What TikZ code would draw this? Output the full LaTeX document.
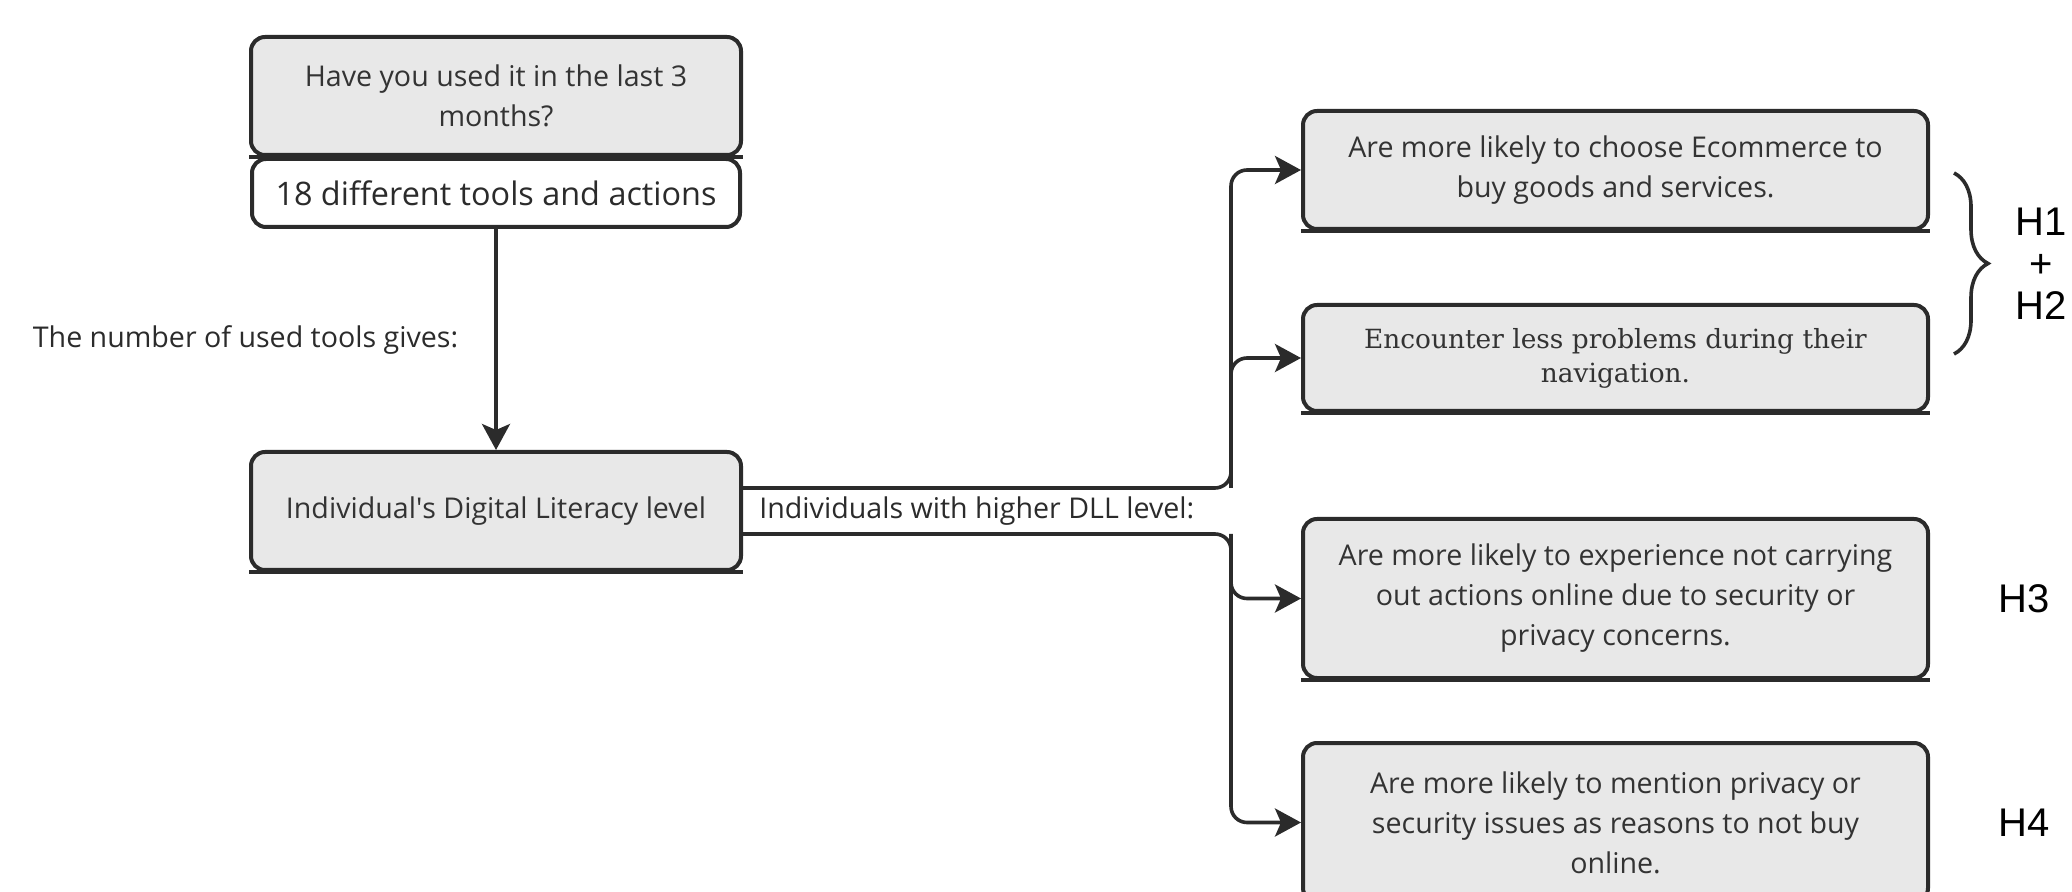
\documentclass[tikz,border=0pt]{standalone}
\usepackage{fontspec}
\setmainfont{Open Sans}
\newfontfamily\slabfont{DejaVu Serif}
\newfontfamily\hfont{Liberation Sans}
\usepackage{tikz}
\usetikzlibrary{positioning,arrows.meta,calc,decorations.pathreplacing}
\definecolor{ink}{HTML}{2B2B2B}
\definecolor{boxbg}{HTML}{E8E8E8}
\definecolor{txt}{HTML}{333333}
\tikzset{
  blk/.style={rectangle,rounded corners=7pt,draw=ink,fill=boxbg,line width=2pt,
    align=center,text=txt,inner sep=4pt,font=\fontsize{14.3}{20}\selectfont},
  blkw/.style={blk,fill=white,text=ink,font=\fontsize{16.2}{20}\selectfont},
  uline/.style={draw=ink,line width=2pt},
  ar/.style={-{Stealth[length=13pt,width=14pt,inset=3pt]},line width=1.8pt,draw=ink,rounded corners=8pt},
  lbl/.style={font=\fontsize{14.3}{20}\selectfont,text=ink,inner sep=0pt},
  hlbl/.style={font=\hfont\fontsize{20}{21}\selectfont,align=center,inner sep=0pt},
}
\begin{document}
\begin{tikzpicture}[x=0.5pt,y=-0.5pt,node distance=2pt]
  \useasboundingbox (0,0) rectangle (2072,892);
  \node[blk,minimum width=245pt,minimum height=59pt] (q) at (496,96) {Have you used it in the last 3\\months?};
  \node[blkw,minimum width=244pt,minimum height=34pt,below=0pt of q] (t) {18 different tools and actions};
  \node[blk,minimum width=245pt,minimum height=59pt,below=110.5pt of t] (dll) {Individual\textquotesingle s Digital Literacy level};
  \node[blk,minimum width=312.5pt,minimum height=59pt] (a) at (1615.5,170) {Are more likely to choose Ecommerce to\\buy goods and services.};
  \node[blk,minimum width=312.5pt,minimum height=53pt,below=36pt of a,font=\slabfont\fontsize{13.2}{17}\selectfont] (b) {Encounter less problems during their\\navigation.};
  \node[blk,minimum width=312.5pt,minimum height=79.5pt,below=52pt of b] (c) {Are more likely to experience not carrying\\out actions online due to security or\\privacy concerns.};
  \node[blk,minimum width=312.5pt,minimum height=79.5pt,below=30.5pt of c] (d) {Are more likely to mention privacy or\\security issues as reasons to not buy\\online.};
  \foreach \n in {q,dll,a,b,c,d}
    \draw[uline] (\n.south west) -- (\n.south east);
  % arrows
  \draw[ar] (t) -- node[lbl,left=18pt] (gives) {The number of used tools gives:} (dll);
  \node[lbl,right=8pt of dll] (dlllbl) {Individuals with higher DLL level:};
  \coordinate (jup) at ($(dll.east)+(488,-23)$);
  \coordinate (jlo) at ($(dll.east)+(488,23)$);
  \draw[ar] ($(dll.east)+(0,-23)$) -- (jup) |- (a.west);
  \draw[ar] (jup) |- (b.west);
  \draw[ar] ($(dll.east)+(0,23)$) -- (jlo) |- (c.west);
  \draw[ar] (jlo) |- (d.west);
  % hypotheses
  \draw[ink,line width=1.8pt,decorate,decoration={brace,amplitude=17pt}] ($(a.east)+(24,3)$) -- ($(b.east)+(24,-4)$);
  \node[hlbl] (h12) at ($(a.east)!0.5!(b.east)+(111,0)$) {H1\\+\\H2};
  \node[hlbl,right=34pt of c] (h3) {H3};
  \node[hlbl,right=34pt of d] (h4) {H4};
\end{tikzpicture}
\end{document}
